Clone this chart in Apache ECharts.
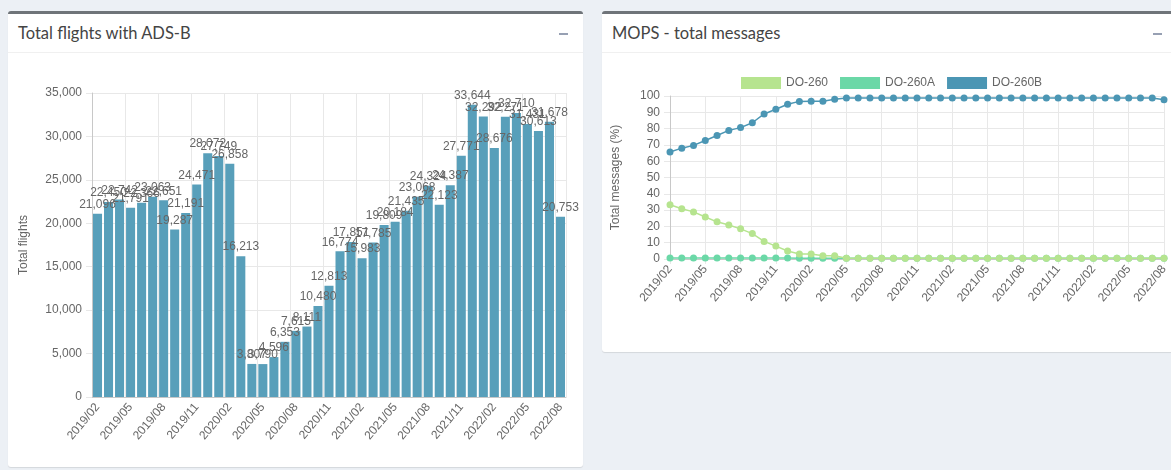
<!DOCTYPE html>
<html>
<head>
<meta charset="utf-8">
<script src="https://cdn.jsdelivr.net/npm/echarts@6/dist/echarts.min.js"></script>
<style>
  html, body { margin: 0; padding: 0; background: #ecf0f5; width: 1171px; height: 470px; overflow: hidden; }
  .box { position: absolute; background: #fff; border-top: 3px solid #6f7479; border-radius: 3px; box-shadow: 0 1px 1px rgba(0,0,0,0.1); overflow: hidden; }
  .box-header { height: 38px; border-bottom: 1px solid #f0f0f0; position: relative; }
  .box-title { position: absolute; left: 10px; top: 9px; font-family: Lato, "Noto Sans", sans-serif; font-size: 16.5px; color: #444; }
  .box-tool { position: absolute; top: 19px; width: 9px; height: 2px; background: #97a0b3; }
  .chart { position: absolute; left: 0; }
</style>
</head>
<body>
<div class="box" style="left:8px; top:11px; width:575px; height:453px;">
  <div class="box-header"><span class="box-title">Total flights with ADS-B</span><div class="box-tool" style="left:551px;"></div></div>
  <div class="chart" id="flights" style="top:40px; width:575px; height:413px;"></div>
</div>
<div class="box" style="left:602px; top:11px; width:580px; height:338px;">
  <div class="box-header"><span class="box-title">MOPS - total messages</span><div class="box-tool" style="left:551px;"></div></div>
  <div class="chart" id="mops" style="top:40px; width:580px; height:298px;"></div>
</div>
<script>
const months = ['2019/02', '2019/03', '2019/04', '2019/05', '2019/06', '2019/07', '2019/08', '2019/09', '2019/10', '2019/11', '2019/12',
  '2020/01', '2020/02', '2020/03', '2020/04', '2020/05', '2020/06', '2020/07', '2020/08', '2020/09', '2020/10', '2020/11', '2020/12',
  '2021/01', '2021/02', '2021/03', '2021/04', '2021/05', '2021/06', '2021/07', '2021/08', '2021/09', '2021/10', '2021/11', '2021/12',
  '2022/01', '2022/02', '2022/03', '2022/04', '2022/05', '2022/06', '2022/07', '2022/08']

const totalFlights = [21096, 22450, 22742, 21791, 22366, 23063, 22651, 19287, 21191, 24471, 28072,
  27749, 26858, 16213, 3807, 3790, 4596, 6353, 7615, 8111, 10480, 12813, 16774,
  17851, 15983, 17785, 19809, 20184, 21435, 23068, 24324, 22123, 24387, 27771, 33644,
  32292, 28676, 32271, 32710, 31431, 30613, 31678, 20753]

const do260 = [33.3, 30.8, 28.9, 25.8, 22.8, 20.9, 18.5, 15.6, 10.8, 7.9, 4.9,
  3.1, 3.0, 2.0, 2.0, 0.4, 0.4, 0.4, 0.4, 0.4, 0.4, 0.4, 0.4,
  0.4, 0.4, 0.4, 0.4, 0.4, 0.4, 0.4, 0.4, 0.4, 0.4, 0.4, 0.4,
  0.4, 0.4, 0.4, 0.4, 0.4, 0.4, 0.4, 0.4]
const do260A = [0.6, 0.6, 0.6, 0.6, 0.6, 0.6, 0.6, 0.6, 0.6, 0.6, 0.6,
  0.5, 0.4, 0.4, 0.4, 0.4, 0.4, 0.4, 0.4, 0.4, 0.4, 0.4, 0.4,
  0.4, 0.4, 0.4, 0.4, 0.4, 0.4, 0.4, 0.4, 0.4, 0.4, 0.4, 0.4,
  0.4, 0.4, 0.4, 0.4, 0.4, 0.4, 0.4, 0.4]
const do260B = [65.6, 68.0, 69.7, 72.7, 75.8, 78.9, 80.6, 83.6, 89.0, 91.9, 94.9,
  96.7, 96.8, 96.8, 98.0, 98.7, 98.8, 98.8, 98.8, 98.8, 98.8, 98.8, 98.8,
  98.8, 98.8, 98.8, 98.8, 98.8, 98.8, 98.8, 98.8, 98.8, 98.8, 98.8, 98.8,
  98.8, 98.8, 98.8, 98.8, 98.8, 98.8, 98.8, 97.7]

const font = 'Liberation Sans, Arial, sans-serif'
const grey = '#666'
const gridColor = '#e8e8e8'
const fmt = v => v.toLocaleString('en-US')

function drawFlights() {
  const chart = echarts.init(document.getElementById('flights'))
  chart.setOption({
    animation: false,
    textStyle: { fontFamily: font },
    grid: { left: 84, right: 17, top: 39, bottom: 70 },
    xAxis: {
      type: 'category',
      data: months,
      axisLine: { lineStyle: { color: '#c8c8c8' } },
      axisTick: { interval: 2, length: 5, lineStyle: { color: gridColor } },
      axisLabel: { interval: 2, rotate: 50, color: grey, fontSize: 12, margin: 8 },
      splitLine: { show: true, interval: 2, lineStyle: { color: gridColor } }
    },
    yAxis: {
      type: 'value',
      min: 0,
      max: 35000,
      interval: 5000,
      name: 'Total flights',
      nameLocation: 'middle',
      nameGap: 62,
      nameTextStyle: { color: grey, fontSize: 12 },
      axisLine: { show: true, lineStyle: { color: '#c8c8c8' } },
      axisTick: { show: true, length: 6, lineStyle: { color: gridColor } },
      axisLabel: { color: grey, fontSize: 12, margin: 10, formatter: fmt },
      splitLine: { lineStyle: { color: gridColor } }
    },
    series: [{
      type: 'bar',
      data: totalFlights,
      barCategoryGap: '18%',
      itemStyle: { color: '#589fba' },
      label: { show: true, position: 'top', distance: 3, color: grey, fontSize: 12, formatter: p => fmt(p.value) }
    }]
  })
}

function drawMops() {
  const chart = echarts.init(document.getElementById('mops'))
  const line = (name, data, color, z) => ({
    name, type: 'line', data, z,
    symbol: 'circle', symbolSize: 7,
    itemStyle: { color },
    lineStyle: { color, width: 1.5 }
  })
  chart.setOption({
    animation: false,
    textStyle: { fontFamily: font },
    legend: {
      top: 18,
      left: 134,
      icon: 'rect',
      itemWidth: 40,
      itemHeight: 12,
      itemGap: 12,
      textStyle: { color: grey, fontSize: 12 },
      data: ['DO-260', 'DO-260A', 'DO-260B']
    },
    grid: { left: 68, right: 18, top: 42, bottom: 93 },
    xAxis: {
      type: 'category',
      data: months,
      boundaryGap: false,
      axisLine: { lineStyle: { color: '#c8c8c8' } },
      axisTick: { interval: 2, length: 5, lineStyle: { color: gridColor } },
      axisLabel: { interval: 2, rotate: 50, color: grey, fontSize: 12, margin: 8 },
      splitLine: { show: true, interval: 2, lineStyle: { color: gridColor } }
    },
    yAxis: {
      type: 'value',
      min: 0,
      max: 100,
      interval: 10,
      name: 'Total messages (%)',
      nameLocation: 'middle',
      nameGap: 48,
      nameTextStyle: { color: grey, fontSize: 12 },
      axisLine: { show: true, lineStyle: { color: '#c8c8c8' } },
      axisTick: { show: true, length: 6, lineStyle: { color: gridColor } },
      axisLabel: { color: grey, fontSize: 12, margin: 10 },
      splitLine: { lineStyle: { color: gridColor } }
    },
    series: [
      line('DO-260', do260, '#b6e48f', 5),
      line('DO-260A', do260A, '#6bd8a7', 4),
      line('DO-260B', do260B, '#4b96b4', 3)
    ]
  })
}

drawFlights()
drawMops()
</script>
</body>
</html>
